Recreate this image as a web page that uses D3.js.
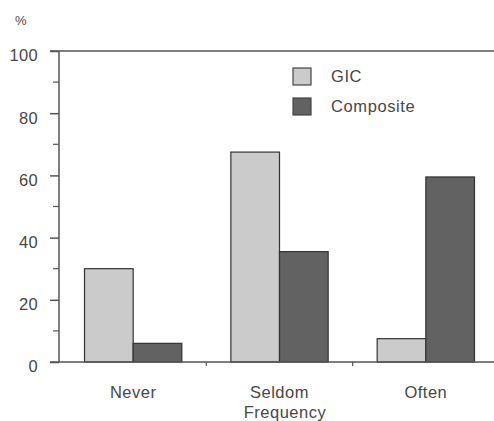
<!DOCTYPE html>
<html>
<head>
<meta charset="utf-8">
<script src="https://cdn.jsdelivr.net/npm/d3@7"></script>
<style>
  body { margin: 0; background: #fff; }
  text { font-family: "Liberation Sans", Arial, sans-serif; fill: #474747; }
</style>
</head>
<body>
<div id="chart"></div>
<script>
var categories = ["Never", "Seldom", "Often"];
var series = ["GIC", "Composite"];
var gicValues = [30, 67.5, 7.5];
var compositeValues = [6, 35.5, 59.5];
var yTicks = [0, 20, 40, 60, 80, 100];
var yMinorTicks = [10, 30, 50, 70, 90];
var xTitle = "Frequency";
var yTitle = "%";

var width = 494, height = 421;
var colors = { "GIC": "#cbcbcb", "Composite": "#626262" };
var fontSize = 16.5;

var svg = d3.select("#chart").append("svg")
    .attr("width", width)
    .attr("height", height);

var x = d3.scaleBand()
    .domain(categories)
    .range([60, 499])
    .paddingInner(0.335)
    .paddingOuter(0.1675);

var xs = d3.scaleBand()
    .domain(series)
    .range([0, x.bandwidth()]);

var y = d3.scaleLinear()
    .domain([0, 100])
    .range([362, 51]);

// top frame line
svg.append("line")
    .attr("x1", 50).attr("x2", width)
    .attr("y1", y(100)).attr("y2", y(100))
    .attr("stroke", "#555").attr("stroke-width", 1.5);

// bars
var rows = categories.map(function(c, i) {
    return [{ cat: c, s: "GIC", v: gicValues[i] }, { cat: c, s: "Composite", v: compositeValues[i] }];
});
svg.append("g").selectAll("rect")
    .data(d3.merge(rows))
    .enter().append("rect")
    .attr("x", function(d) { return x(d.cat) + xs(d.s); })
    .attr("y", function(d) { return y(d.v); })
    .attr("width", xs.bandwidth())
    .attr("height", function(d) { return y(0) - y(d.v); })
    .attr("fill", function(d) { return colors[d.s]; })
    .attr("stroke", "#333")
    .attr("stroke-width", 1.2);

// y axis
var yAxis = svg.append("g")
    .attr("transform", "translate(59,0)")
    .call(d3.axisLeft(y).tickValues(yTicks).tickSize(9).tickPadding(12));
yAxis.selectAll("text")
    .attr("font-size", fontSize)
    .attr("letter-spacing", 0.3)
    .attr("dy", "0.6em");
yAxis.selectAll("line,path").attr("stroke", "#555").attr("stroke-width", 1.5);
yAxis.select(".domain").attr("d", "M0," + y(0) + "V" + y(100));

svg.append("g").selectAll("line")
    .data(yMinorTicks)
    .enter().append("line")
    .attr("x1", 53).attr("x2", 59)
    .attr("y1", function(d) { return y(d); })
    .attr("y2", function(d) { return y(d); })
    .attr("stroke", "#555").attr("stroke-width", 1.2);

// x axis line and separator ticks
svg.append("line")
    .attr("x1", 50).attr("x2", width)
    .attr("y1", y(0)).attr("y2", y(0))
    .attr("stroke", "#555").attr("stroke-width", 1.5);

svg.append("g").selectAll("line")
    .data(categories.slice(1))
    .enter().append("line")
    .attr("x1", function(d) { return x(d) - x.step() * x.paddingInner() / 2; })
    .attr("x2", function(d) { return x(d) - x.step() * x.paddingInner() / 2; })
    .attr("y1", y(0)).attr("y2", y(0) + 4)
    .attr("stroke", "#555").attr("stroke-width", 1.2);

// category labels
svg.append("g").selectAll("text")
    .data(categories)
    .enter().append("text")
    .attr("x", function(d) { return x(d) + x.bandwidth() / 2; })
    .attr("y", 398)
    .attr("text-anchor", "middle")
    .attr("font-size", fontSize)
    .attr("letter-spacing", 0.5)
    .text(function(d) { return d; });

svg.append("text")
    .attr("x", 285).attr("y", 418)
    .attr("text-anchor", "middle")
    .attr("font-size", fontSize)
    .attr("letter-spacing", 0.5)
    .text(xTitle);

svg.append("text")
    .attr("x", 15).attr("y", 25)
    .attr("font-size", 13)
    .text(yTitle);

// legend
var legend = svg.append("g").selectAll("g")
    .data(series)
    .enter().append("g")
    .attr("transform", function(d, i) { return "translate(293," + (68 + i * 30) + ")"; });
legend.append("rect")
    .attr("width", 18).attr("height", 17)
    .attr("fill", function(d) { return colors[d]; })
    .attr("stroke", "#444").attr("stroke-width", 1.2);
legend.append("text")
    .attr("x", 38).attr("y", 14)
    .attr("font-size", fontSize)
    .attr("letter-spacing", 0.6)
    .text(function(d) { return d; });
</script>
</body>
</html>
